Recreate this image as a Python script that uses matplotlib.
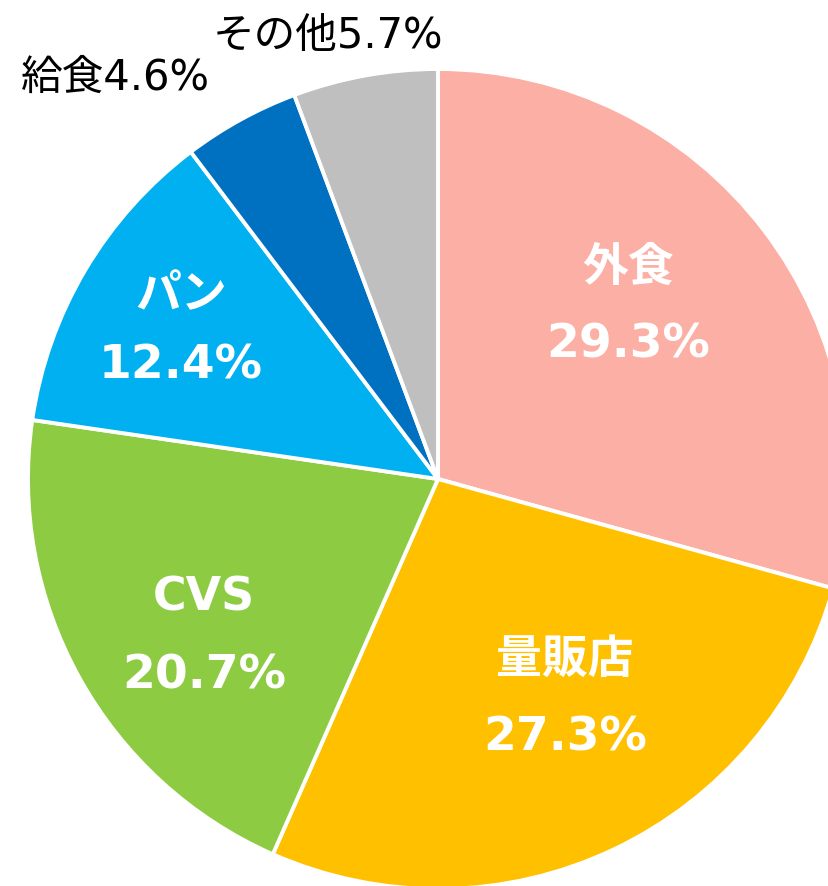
import matplotlib.pyplot as plt

# 販売チャネル別の構成比
labels = ['外食', '量販店', 'CVS', 'パン', '給食', 'その他']
shares = [29.3, 27.3, 20.7, 12.4, 4.6, 5.7]
colors = ['#FBAFA5', '#FFC000', '#8DCB42', '#00B0F0', '#0070C0', '#BFBFBF']

W, H = 829, 887
fonts = ['DejaVu Sans', 'Noto Sans CJK JP']

fig = plt.figure(figsize=(W / 100, H / 100), dpi=100)
ax = fig.add_axes([0, 0, 1, 1])

cx, cy, r = 438, H - 480, 410
ax.pie(shares, colors=colors, startangle=90, counterclock=False,
       center=(cx, cy), radius=r,
       wedgeprops=dict(edgecolor='white', linewidth=2.8))
ax.set_xlim(0, W)
ax.set_ylim(0, H)
ax.set_aspect('equal')
ax.axis('off')

# inside labels (name above, percent below), pixel positions from the top-left
inside = {0: (628, 268, 345), 1: (565, 660, 738), 2: (204, 598, 676), 3: (181, 296, 366)}
for i, (x, y1, y2) in inside.items():
    ax.text(x, H - y1, labels[i], ha='center', va='center', color='white',
            fontsize=33, fontweight='bold', family=fonts)
    ax.text(x, H - y2, f'{shares[i]:.1f}%', ha='center', va='center', color='white',
            fontsize=34, fontweight='bold', family=fonts)

# outside labels for the small slices
outside = {4: (115, 78), 5: (328, 36)}
for i, (x, y) in outside.items():
    ax.text(x, H - y, f'{labels[i]}{shares[i]:.1f}%', ha='center', va='center',
            color='black', fontsize=30, family=fonts)

fig.savefig('out.png', dpi=100)
